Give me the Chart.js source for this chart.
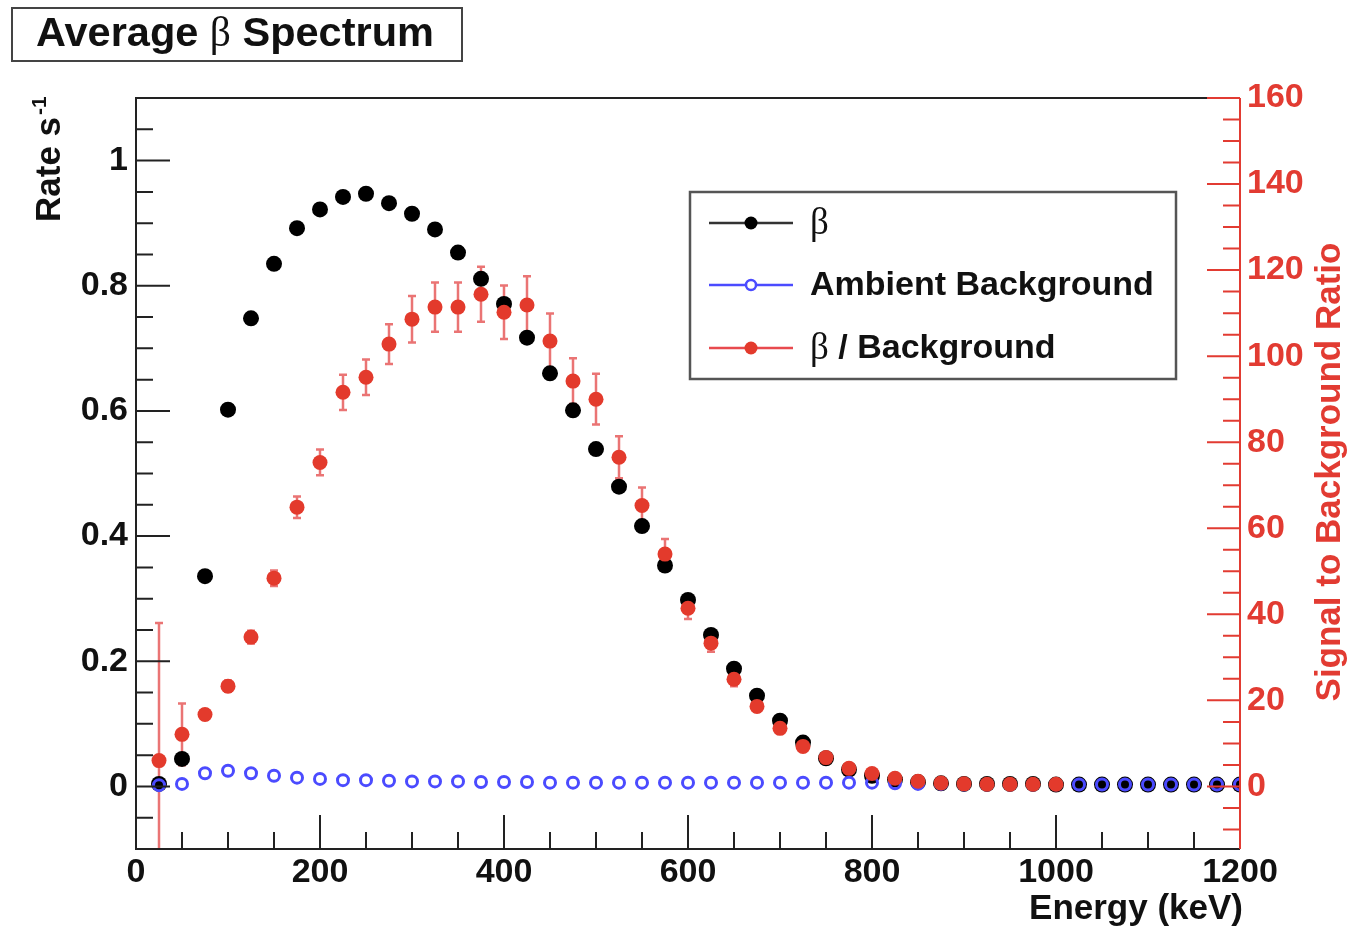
<!DOCTYPE html>
<html>
<head>
<meta charset="utf-8">
<script src="https://cdn.jsdelivr.net/npm/chart.js@4.4.1/dist/chart.umd.min.js"></script>
<style>
  html, body { margin: 0; padding: 0; background: #fff; }
  #wrap { width: 1352px; height: 930px; }
</style>
</head>
<body>
<div id="wrap"><canvas id="spectrum" width="1352" height="930"></canvas></div>
<script>
// energy bins (keV)
const energies = [25, 50, 75, 100, 125, 150, 175, 200, 225, 250, 275, 300, 325, 350, 375, 400,
    425, 450, 475, 500, 525, 550, 575, 600, 625, 650, 675, 700, 725, 750, 775, 800,
    825, 850, 875, 900, 925, 950, 975, 1000, 1025, 1050, 1075, 1100, 1125, 1150, 1175, 1200];

// beta rate (s^-1), left axis
const betaRate = [0.004, 0.044, 0.336, 0.602, 0.748, 0.835, 0.892, 0.922, 0.942, 0.947, 0.932, 0.915,
    0.890, 0.853, 0.811, 0.771, 0.717, 0.660, 0.601, 0.539, 0.479, 0.416, 0.353, 0.298,
    0.242, 0.188, 0.145, 0.105, 0.070, 0.045, 0.027, 0.017, 0.011, 0.007, 0.005, 0.004,
    0.004, 0.004, 0.004, 0.003, 0.003, 0.003, 0.003, 0.003, 0.003, 0.003, 0.003, 0.003];

// ambient background rate (s^-1), left axis
const bkgRate = [0.002, 0.004, 0.021, 0.025, 0.021, 0.017, 0.014, 0.012, 0.010, 0.010, 0.009, 0.008,
    0.008, 0.008, 0.007, 0.007, 0.007, 0.006, 0.006, 0.006, 0.006, 0.006, 0.006, 0.006,
    0.006, 0.006, 0.006, 0.006, 0.006, 0.006, 0.006, 0.006, 0.005, 0.004, 0.004, 0.003,
    0.003, 0.003, 0.003, 0.003, 0.003, 0.003, 0.003, 0.003, 0.003, 0.003, 0.003, 0.003];

// signal / background ratio, right axis (first 40 bins only)
const ratio = [6.0, 12.1, 16.7, 23.3, 34.7, 48.4, 64.9, 75.3, 91.6, 95.1, 102.8, 108.6,
    111.4, 111.4, 114.4, 110.2, 111.9, 103.5, 94.2, 90.0, 76.5, 65.3, 54.0, 41.4,
    33.3, 24.9, 18.6, 13.5, 9.3, 6.7, 4.2, 3.0, 1.9, 1.2, 0.8, 0.6,
    0.5, 0.5, 0.5, 0.5];
const ratioErr = [32, 7.2, 1.2, 1.3, 1.5, 1.8, 2.5, 3.0, 4.1, 4.1, 4.6, 5.4,
    5.7, 5.7, 6.4, 6.2, 6.7, 6.4, 5.3, 5.9, 4.9, 4.2, 3.5, 2.5,
    2.0, 1.6, 1.2, 1.0, 0.8, 0.6, 0.5, 0, 0, 0, 0, 0,
    0, 0, 0, 0];

// tick labels
const xMajor = [0, 200, 400, 600, 800, 1000, 1200];
const yMajor = [0, 0.2, 0.4, 0.6, 0.8, 1];
const y2Major = [0, 20, 40, 60, 80, 100, 120, 140, 160];

const SANS = "'Liberation Sans', Arial, Helvetica, sans-serif";
const SERIF = "'Liberation Serif', 'DejaVu Serif', serif";
const RED = "#e33a2c";
const AXIS_RED = "#e23b32";
const BLUE = "#4b4bff";
const INK = "#111";

const toPoints = (xs, ys) => ys.map((y, i) => ({ x: xs[i], y: y }));

// draws text pieces with different fonts one after another
const drawPieces = (ctx, pieces, x, y) => {
    let cx = x;
    pieces.forEach(p => {
        ctx.font = p.font;
        ctx.fillText(p.text, cx, y);
        cx += ctx.measureText(p.text).width;
    });
};
const piecesWidth = (ctx, pieces) => {
    let w = 0;
    pieces.forEach(p => { ctx.font = p.font; w += ctx.measureText(p.text).width; });
    return w;
};

const rootStyle = {
    id: "rootStyle",
    beforeDatasetsDraw(chart) {
        // error bars of the ratio
        const ctx = chart.ctx;
        const xs = chart.scales.x, ys = chart.scales.y2;
        const area = chart.chartArea;
        ctx.save();
        ctx.beginPath();
        ctx.rect(area.left, area.top, area.right - area.left, area.bottom - area.top);
        ctx.clip();
        ctx.strokeStyle = "rgba(226,62,62,0.72)";
        ctx.lineWidth = 2.5;
        ratio.forEach((r, i) => {
            const e = ratioErr[i];
            if (!e) return;
            const px = xs.getPixelForValue(energies[i]);
            const top = ys.getPixelForValue(r + e);
            const bot = ys.getPixelForValue(r - e);
            ctx.beginPath();
            ctx.moveTo(px, top); ctx.lineTo(px, bot);
            ctx.moveTo(px - 4, top); ctx.lineTo(px + 4, top);
            ctx.moveTo(px - 4, bot); ctx.lineTo(px + 4, bot);
            ctx.stroke();
        });
        ctx.restore();
    },
    afterDatasetsDraw(chart) {
        const ctx = chart.ctx;
        const { left, right, top, bottom } = chart.chartArea;
        const xs = chart.scales.x, ys = chart.scales.y, ys2 = chart.scales.y2;
        ctx.save();

        // frame
        ctx.lineWidth = 2;
        ctx.strokeStyle = "#222";
        ctx.beginPath();
        ctx.moveTo(right, top); ctx.lineTo(left, top); ctx.lineTo(left, bottom); ctx.lineTo(right, bottom);
        ctx.stroke();

        // inner ticks, bottom axis
        ctx.lineWidth = 2;
        ctx.beginPath();
        for (let i = 1; i < 24; i++) {
            const px = xs.getPixelForValue(i * 50);
            const len = i % 4 === 0 ? 34 : 17;
            ctx.moveTo(px, bottom); ctx.lineTo(px, bottom - len);
        }
        // left axis
        for (let i = -1; i <= 21; i++) {
            const py = ys.getPixelForValue(i * 0.05);
            const len = i % 4 === 0 ? 34 : 17;
            ctx.moveTo(left, py); ctx.lineTo(left + len, py);
        }
        ctx.stroke();

        // right axis in red
        ctx.strokeStyle = AXIS_RED;
        ctx.beginPath();
        ctx.moveTo(right, top); ctx.lineTo(right, bottom);
        for (let i = -2; i <= 32; i++) {
            const py = ys2.getPixelForValue(i * 5);
            if (py > bottom - 1) continue;
            const len = i % 4 === 0 ? 33 : 17;
            ctx.moveTo(right, py); ctx.lineTo(right - len, py);
        }
        ctx.stroke();

        // axis titles
        ctx.fillStyle = INK;
        ctx.font = "bold 35px " + SANS;
        ctx.textAlign = "right";
        ctx.textBaseline = "alphabetic";
        ctx.fillText("Energy (keV)", 1243, 919);

        ctx.save();
        ctx.translate(60, 222);
        ctx.rotate(-Math.PI / 2);
        ctx.textAlign = "left";
        ctx.font = "bold 35px " + SANS;
        ctx.fillText("Rate s", 0, 0);
        const w = ctx.measureText("Rate s").width;
        ctx.font = "bold 21px " + SANS;
        ctx.fillText("-1", w + 2, -14);
        ctx.restore();

        ctx.save();
        ctx.translate(1340, 472);
        ctx.rotate(-Math.PI / 2);
        ctx.textAlign = "center";
        ctx.fillStyle = AXIS_RED;
        ctx.font = "bold 35px " + SANS;
        ctx.fillText("Signal to Background Ratio", 0, 0);
        ctx.restore();

        // title box
        ctx.fillStyle = "#fff";
        ctx.fillRect(12, 8, 450, 53);
        ctx.strokeStyle = "#444";
        ctx.lineWidth = 2;
        ctx.strokeRect(12, 8, 450, 53);
        const titlePieces = [
            { text: "Average ", font: "bold 41.5px " + SANS },
            { text: "\u03B2", font: "41.5px " + SERIF },
            { text: " Spectrum", font: "bold 41.5px " + SANS }
        ];
        ctx.fillStyle = INK;
        ctx.textAlign = "left";
        drawPieces(ctx, titlePieces, 235 - piecesWidth(ctx, titlePieces) / 2, 46);

        // legend
        ctx.fillStyle = "#fff";
        ctx.fillRect(690, 192, 486, 187);
        ctx.strokeStyle = "#555";
        ctx.lineWidth = 2.5;
        ctx.strokeRect(690, 192, 486, 187);
        const rows = [
            { y: 223, color: "#333", mark: "#000", open: false, pieces: [{ text: "\u03B2", font: "37px " + SERIF }] },
            { y: 285, color: BLUE, mark: BLUE, open: true, pieces: [{ text: "Ambient Background", font: "bold 34px " + SANS }] },
            { y: 348, color: "#e84a4e", mark: RED, open: false, pieces: [{ text: "\u03B2", font: "37px " + SERIF }, { text: " / Background", font: "bold 34px " + SANS }] }
        ];
        rows.forEach(row => {
            ctx.strokeStyle = row.color;
            ctx.lineWidth = 2.5;
            ctx.beginPath();
            ctx.moveTo(709, row.y); ctx.lineTo(793, row.y);
            ctx.stroke();
            ctx.beginPath();
            if (row.open) {
                ctx.arc(751, row.y, 5, 0, Math.PI * 2);
                ctx.fillStyle = "#fff";
                ctx.fill();
                ctx.lineWidth = 2.5;
                ctx.strokeStyle = row.mark;
                ctx.stroke();
            } else {
                ctx.arc(751, row.y, 6.5, 0, Math.PI * 2);
                ctx.fillStyle = row.mark;
                ctx.fill();
            }
            ctx.fillStyle = INK;
            ctx.textBaseline = "middle";
            drawPieces(ctx, row.pieces, 810, row.y + 1);
        });
        ctx.restore();
    }
};

const tickFont = { family: SANS, size: 34, weight: "bold" };

new Chart(document.getElementById("spectrum"), {
    type: "scatter",
    data: {
        datasets: [
            {
                label: "\u03B2 / Background",
                data: toPoints(energies, ratio),
                yAxisID: "y2",
                backgroundColor: RED,
                borderColor: RED,
                borderWidth: 0,
                pointRadius: 7.5,
                order: 0
            },
            {
                label: "Ambient Background",
                data: toPoints(energies, bkgRate),
                yAxisID: "y",
                backgroundColor: "rgba(255,255,255,0)",
                borderColor: BLUE,
                borderWidth: 3,
                pointRadius: 5.5,
                order: 1
            },
            {
                label: "\u03B2",
                data: toPoints(energies, betaRate),
                yAxisID: "y",
                backgroundColor: "#000",
                borderColor: "#000",
                borderWidth: 0,
                pointRadius: 8,
                order: 2
            }
        ]
    },
    options: {
        responsive: false,
        animation: false,
        layout: { padding: { top: 98, left: 0, right: 0, bottom: 0 } },
        plugins: {
            legend: { display: false },
            tooltip: { enabled: false }
        },
        scales: {
            x: {
                type: "linear",
                position: "bottom",
                min: 0,
                max: 1200,
                afterBuildTicks: s => { s.ticks = xMajor.map(v => ({ value: v })); },
                afterFit: s => { s.height = 81; },
                grid: { display: false, drawTicks: false },
                border: { display: false },
                ticks: { font: tickFont, color: INK, padding: 3, maxRotation: 0, callback: v => String(v) }
            },
            y: {
                type: "linear",
                position: "left",
                min: -0.1,
                max: 1.1,
                afterBuildTicks: s => { s.ticks = yMajor.map(v => ({ value: v })); },
                afterFit: s => { s.width = 136; },
                grid: { display: false, drawTicks: false },
                border: { display: false },
                ticks: { font: tickFont, color: INK, padding: 8, callback: v => String(v) }
            },
            y2: {
                type: "linear",
                position: "right",
                min: -0.1 * 160 / 1.1,
                max: 160,
                afterBuildTicks: s => { s.ticks = y2Major.map(v => ({ value: v })); },
                afterFit: s => { s.width = 112; },
                grid: { display: false, drawTicks: false },
                border: { display: false },
                ticks: { font: tickFont, color: AXIS_RED, padding: 7, callback: v => String(v) }
            }
        }
    },
    plugins: [rootStyle]
});
</script>
</body>
</html>
